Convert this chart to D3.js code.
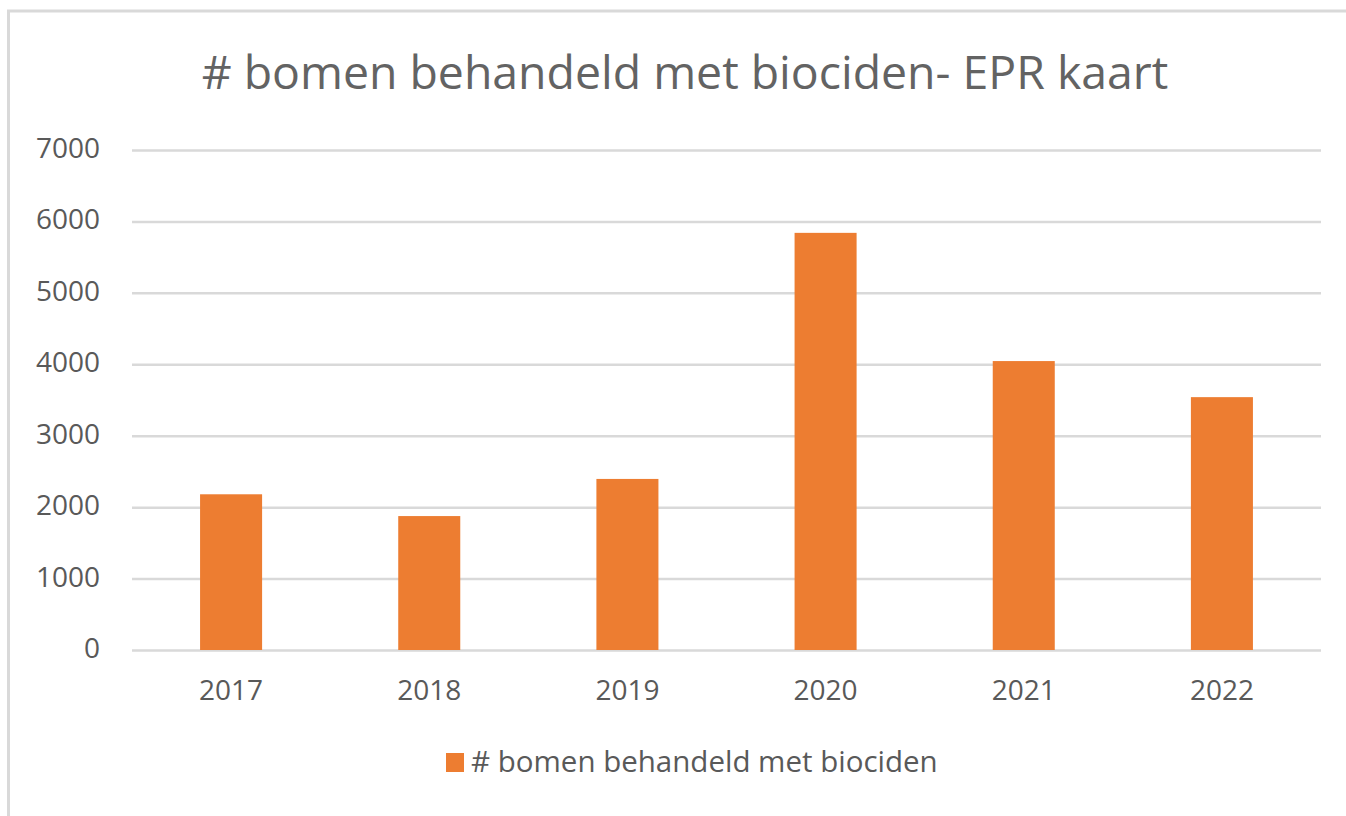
<!DOCTYPE html>
<html lang="nl">
<head>
    <meta charset="UTF-8">
    <title># bomen behandeld met biociden- EPR kaart</title>
    <script src="https://d3js.org/d3.v7.min.js"></script>
    <style>
        body { margin: 0; background: #fff; }
        text { font-family: "Open Sans", "Noto Sans", sans-serif; fill: #595959; }
        .grid line { stroke: #d9d9d9; stroke-width: 2.5px; }
        .grid .domain { display: none; }
    </style>
</head>
<body>
    <svg width="1346" height="816"></svg>
    <script>
        const years = ["2017", "2018", "2019", "2020", "2021", "2022"];
        const counts = [2180, 1875, 2395, 5840, 4045, 3540];
        const yTicks = [0, 1000, 2000, 3000, 4000, 5000, 6000, 7000];
        const title = "# bomen behandeld met biociden- EPR kaart";
        const seriesName = "# bomen behandeld met biociden";

        const svg = d3.select("svg");
        const orange = "#ed7d31";

        // chart frame (left and top edge visible)
        svg.append("rect")
            .attr("x", 8.5).attr("y", 11)
            .attr("width", 1400).attr("height", 900)
            .attr("fill", "none")
            .attr("stroke", "#d9d9d9")
            .attr("stroke-width", 3);

        const x = d3.scaleBand()
            .domain(years)
            .range([132, 1321])
            .paddingInner(0.687)
            .paddingOuter(0.3435);

        const y = d3.scaleLinear()
            .domain([0, 7000])
            .range([650, 150]);

        // gridlines
        svg.append("g")
            .attr("class", "grid")
            .attr("transform", "translate(132,0)")
            .call(d3.axisLeft(y).tickValues(yTicks).tickSize(-1189).tickFormat(""));

        // y tick labels
        svg.append("g").selectAll("text")
            .data(yTicks)
            .join("text")
            .attr("x", 100)
            .attr("y", d => y(d) + 8)
            .attr("text-anchor", "end")
            .style("font-size", "28px")
            .text(d => d);

        // bars
        svg.append("g").selectAll("rect")
            .data(years)
            .join("rect")
            .attr("x", d => x(d))
            .attr("width", x.bandwidth())
            .attr("y", (d, i) => y(counts[i]))
            .attr("height", (d, i) => y(0) - y(counts[i]))
            .attr("fill", orange);

        // x labels
        svg.append("g").selectAll("text")
            .data(years)
            .join("text")
            .attr("x", d => x(d) + x.bandwidth() / 2)
            .attr("y", 700)
            .attr("text-anchor", "middle")
            .style("font-size", "28px")
            .text(d => d);

        // title
        svg.append("text")
            .attr("x", 685)
            .attr("y", 89)
            .attr("text-anchor", "middle")
            .style("font-size", "46.4px")
            .style("fill", "#636363")
            .text(title);

        // legend
        const legend = svg.append("g").attr("transform", "translate(446,753)");
        legend.append("rect")
            .attr("width", 18).attr("height", 19)
            .attr("fill", orange);
        legend.append("text")
            .attr("x", 25)
            .attr("y", 19)
            .style("font-size", "29.5px")
            .text(seriesName);
    </script>
</body>
</html>
